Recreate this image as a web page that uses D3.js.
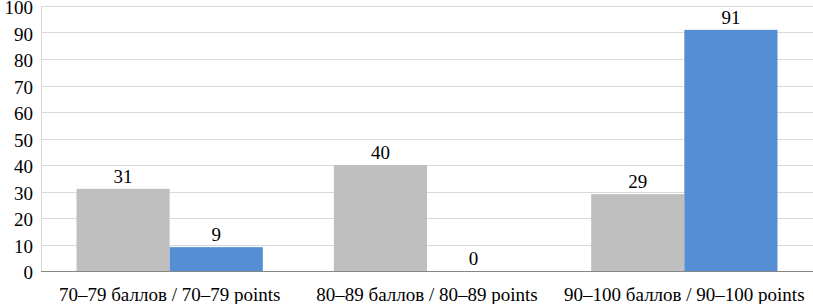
<!DOCTYPE html>
<html><head><meta charset="utf-8">
<script src="https://cdn.jsdelivr.net/npm/d3@7"></script>
</head><body style="margin:0">
<div id="wrap" style="position:relative;width:813px;height:304px;overflow:hidden">
<svg id="c" width="813" height="304" style="position:absolute;left:0;top:0"></svg>
</div>
<script>
const categories = ["70–79 баллов / 70–79 points", "80–89 баллов / 80–89 points", "90–100 баллов / 90–100 points"];
const seriesGray = [31, 40, 29];
const seriesBlue = [9, 0, 91];
const yTicks = [0,10,20,30,40,50,60,70,80,90,100];

const svg = d3.select("#c");
const wrap = d3.select("#wrap");
const m = {l:41, r:0, t:6, b:33};
const W = 813, H = 304;
const FS = 19;
const FF = "'Liberation Serif', 'Times New Roman', serif";
const x = d3.scaleBand().domain(categories).range([m.l, W-m.r]).paddingInner(0.276).paddingOuter(0.138);
const x0 = d3.scaleBand().domain(categories).range([m.l, W-m.r]);
const y = d3.scaleLinear().domain([0,100]).range([H-m.b, m.t]);

// HTML label helper: anchor 'middle' | 'end'; baseline y in px
function label(px, py, text, anchor){
  const d = wrap.append("div").text(text)
    .style("position","absolute").style("white-space","nowrap")
    .style("font-family",FF).style("font-size",FS+"px").style("line-height","1").style("color","#000");
  const tx = anchor==="end" ? "-100%" : "-50%";
  d.style("left", px+"px").style("top", py+"px").style("transform", `translate(${tx}, -80%)`);
  return d;
}

svg.append("g").selectAll("line").data(yTicks.filter(v=>v>0)).join("line")
  .attr("x1", m.l).attr("x2", W).attr("y1", v=>Math.round(y(v))+0.5).attr("y2", v=>Math.round(y(v))+0.5)
  .attr("stroke", "#d9d9d9").attr("stroke-width", 1);

const series = [{vals: seriesGray, color:"#bfbfbf"}, {vals: seriesBlue, color:"#558ed5"}];
const inner = d3.scaleBand().domain([0,1]).range([0, x.bandwidth()]);
series.forEach((s, si) => {
  svg.append("g").selectAll("rect").data(categories).join("rect")
    .attr("x", c=>x(c)+inner(si)).attr("width", inner.bandwidth())
    .attr("y", (c,i)=>y(s.vals[i])).attr("height", (c,i)=>y(0)-y(s.vals[i]))
    .attr("fill", s.color);
  categories.forEach((c,i)=>{
    label(x(c)+inner(si)+inner.bandwidth()/2, y(s.vals[i])-7, String(s.vals[i]), "middle");
  });
});

svg.append("line").attr("x1", m.l+0.5).attr("x2", m.l+0.5).attr("y1", y(100)).attr("y2", y(0)).attr("stroke","#d9d9d9");
svg.append("line").attr("x1", m.l).attr("x2", W).attr("y1", Math.round(y(0))+0.5).attr("y2", Math.round(y(0))+0.5).attr("stroke","#868686");

yTicks.forEach(v => label(33, y(v)+7, String(v), "end"));
categories.forEach(c => label(x0(c)+x0.bandwidth()/2, 300, c, "middle"));
</script></body></html>
